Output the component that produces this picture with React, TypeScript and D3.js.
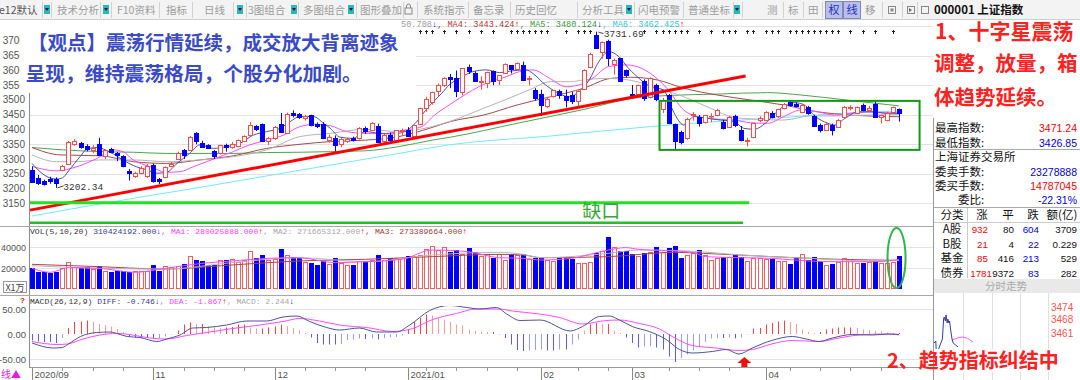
import React from 'react';
import * as d3 from 'd3';

// ---------------- DATA ----------------
const opens = [3263,3237,3226,3234,3232,3264,3282,3350,3355,3345,3332,3352,3310,3333,3320,3310,3258,3241,3253,3243,3280,3231,3238,3276,3300,3330,3332,3388,3354,3346,3327,3320,3346,3340,3345,3362,3382,3412,3418,3360,3370,3418,3388,3455,3452,3440,3448,3420,3418,3365,3372,3350,3362,3372,3370,3405,3398,3412,3362,3383,3360,3394,3400,3377,3420,3474,3492,3530,3552,3578,3575,3528,3612,3590,3560,3557,3598,3568,3590,3618,3605,3620,3570,3535,3522,3478,3514,3532,3512,3517,3495,3537,3612,3721,3664,3700,3621,3641,3601,3520,3520,3563,3510,3550,3470,3518,3418,3393,3370,3449,3444,3427,3445,3449,3427,3410,3446,3398,3362,3376,3432,3432,3455,3446,3472,3494,3488,3460,3477,3446,3415,3398,3415,3410,3441,3472,3457,3483,3466,3486,3441,3432,3460,3468];
const highs = [3275,3246,3230,3240,3238,3280,3361,3367,3358,3350,3347,3372,3333,3338,3324,3313,3266,3257,3276,3283,3285,3236,3275,3290,3325,3334,3378,3391,3362,3350,3330,3348,3352,3358,3366,3380,3425,3415,3420,3375,3412,3456,3457,3465,3456,3450,3450,3424,3425,3383,3380,3372,3373,3376,3408,3410,3425,3420,3385,3390,3398,3403,3408,3414,3474,3511,3528,3556,3577,3588,3600,3608,3620,3597,3580,3596,3600,3585,3624,3618,3627,3630,3581,3540,3535,3510,3533,3535,3535,3528,3533,3604,3660,3731.69,3698,3704,3640,3643,3603,3551,3552,3570,3577,3555,3507,3520,3420,3396,3440,3459,3449,3450,3455,3470,3432,3446,3450,3412,3372,3422,3445,3462,3462,3470,3490,3497,3492,3488,3480,3450,3420,3422,3420,3435,3480,3482,3478,3488,3480,3500,3450,3460,3478,3471.24];
const lows = [3222,3212,3210,3216,3202.34,3259,3280,3345,3335,3326,3320,3310,3300,3320,3293,3272,3227,3236,3248,3236,3220,3215,3235,3272,3298,3300,3330,3350,3340,3334,3300,3315,3325,3335,3340,3358,3380,3395,3360,3348,3365,3390,3385,3441,3436,3430,3411,3405,3368,3355,3325,3340,3355,3360,3366,3385,3395,3355,3355,3358,3355,3380,3375,3371,3418,3460,3484,3513,3544,3540,3510,3516,3588,3562,3535,3540,3550,3550,3588,3590,3600,3566,3550,3498,3446,3472,3508,3504,3475,3486,3473,3535,3610,3674,3640,3615,3586,3564,3576,3505,3510,3497,3505,3496,3456,3418,3330,3350,3365,3430,3410,3420,3425,3445,3400,3406,3408,3360,3343,3372,3425,3430,3438,3440,3468,3478,3475,3455,3450,3410,3390,3395,3380,3405,3438,3465,3452,3462,3460,3440,3421,3428,3455,3426.85];
const closes = [3223,3219,3217,3226,3218,3275,3358,3360,3340,3334,3338,3313,3329,3325,3314,3278,3251,3254,3270,3276,3225,3226,3272,3283,3321,3312,3373,3360,3342,3339,3310,3346,3340,3350,3363,3378,3414,3403,3362,3370,3408,3392,3451,3449,3443,3445,3416,3411,3371,3373,3347,3369,3367,3366,3404,3394,3421,3357,3382,3363,3397,3397,3379,3414,3473,3503,3528,3550,3576,3570,3531,3608,3598,3566,3566,3596,3566,3584,3621,3606,3624,3569,3573,3506,3483,3505,3533,3517,3501,3496,3532,3603,3655,3675,3696,3642,3636,3564,3585,3512,3551,3508,3576,3503,3501,3421,3362,3359,3436,3453,3421,3448,3447,3466,3404,3444,3415,3365,3366,3421,3438,3460,3441,3468,3486,3483,3481,3483,3455,3412,3398,3419,3398,3432,3477,3475,3475,3466,3474,3444,3449,3455,3475,3455];
// volume, unit: x1万 (hands)
const volumes = [20300,16500,15800,15500,16500,20000,25500,21000,20000,20500,19500,21500,17500,16500,17000,17000,16500,17000,17500,17500,23000,17000,22000,21000,22000,24000,31000,28000,27000,22500,22500,27500,28000,28500,25500,27500,36000,30000,32500,27500,29000,38500,32000,30500,29500,25500,25000,22500,26500,24000,29500,24500,23000,22500,27000,27000,28000,32500,28000,29500,30000,29500,31500,31000,32500,38000,40500,37000,40000,35500,37500,33000,39000,35000,31500,33000,30000,33000,28000,33000,32000,33500,29000,29500,29200,27600,26700,29800,29800,28600,24500,25100,26000,34000,36200,49200,40300,36200,36200,33300,31400,34600,34900,39700,35600,38700,41000,29800,32400,34600,37100,32400,27600,29800,30800,30800,33000,30800,27000,29200,29200,28600,28600,27000,27000,23500,29200,33000,27600,30200,27000,22900,23500,26000,29800,28300,25100,25100,26000,27000,25100,25100,26000,31042];
const macdBars = [-13,-15,-16,-16,-18,-8,12,24,25,27,24,20,18,15,10,4,-5,-7,-8,-8,-9,-8,-5,-1,7,19,23,20,20,15,13,12,13,14,19,19,13,11,11,13,15,19,16,12,7,2,-7,-18,-21,-21,-21,-20,-12,-11,-9,-10,-9,-11,-8,-7,-6,-3,9,24,32,39,37,32,29,24,19,17,9,6,5,4,4,-1,-8,-21,-32,-34,-33,-32,-31,-33,-33,-31,-31,-21,-11,7,19,22,20,20,7,2,-7,-18,-27,-25,-24,-27,-31,-45,-56,-48,-41,-33,-25,-16,-9,-8,-8,-7,-9,-7,-1,11,12,19,22,25,27,24,20,9,4,2,4,9,11,13,13,13,12,9,7,6,5,3,2,2.244];
// sparse readings [candle index, value]
const diffPts = [[0,-18],[3.5,-28],[5,-27],[6,-20],[8,-5],[10.7,3],[12.9,4],[14,1],[15.7,-5],[17.8,-7],[20.6,-15],[22.2,-10],[24.4,-2],[26.5,12],[28.8,13],[32.1,18],[35.4,26],[38.7,26],[41.4,34],[43.7,36],[45.8,25],[48.6,13],[50.7,8],[54,12],[56.8,4],[60.1,4],[62.3,18],[65.6,47],[68.9,57],[71.7,53],[73.8,50],[76.6,53],[78.3,40],[80.5,27],[83.8,28],[88.8,6],[90.8,15],[93.6,35],[95.2,36],[96.9,28],[99,15],[101.8,5],[104.6,-11],[106.8,-31],[108.9,-38],[112.2,-35],[114.5,-31],[116.6,-40],[118.8,-28],[122,-13],[125.4,-5],[127.7,-10],[129.8,-15],[132,-8],[135.3,-1],[138.6,-2],[141.4,0],[143,-0.746]];
const deaPts = [[0,-15],[4.1,-21],[5.8,-20],[8.4,-10],[11.2,-2],[14,1],[16.6,-2],[19.4,-8],[22.2,-10],[25.5,-3],[28.8,3],[33.1,11],[37.6,18],[41.4,25],[44.2,31],[47.4,26],[51.2,17],[55.2,13],[59.5,5],[62.8,11],[66.1,29],[70,41],[73.3,50],[77.1,50],[79.2,46],[83.7,40],[87,33],[90.8,20],[94.7,27],[96.9,28],[100.2,21],[103.5,10],[105.6,-5],[108.9,-23],[112.8,-28],[116.6,-33],[118.8,-31],[122,-20],[125.4,-13],[129.8,-15],[133.1,-8],[136.4,-2],[140.9,0],[143,-1.867]];
const ma1Pts = [[0,3285],[2,3246],[4,3232],[5,3236],[6,3259],[7,3285],[8,3310],[9,3333],[10.7,3339],[12.9,3323],[15,3297],[16.7,3278],[19,3263],[20.6,3252],[22.2,3255],[23.9,3285],[26,3319],[27.7,3348],[29.9,3336],[32.1,3342],[34.3,3353],[36.5,3381],[38.7,3393],[40.9,3404],[42.6,3427],[44.2,3444],[46.4,3444],[48.1,3421],[49.2,3404],[50.8,3374],[52.9,3370],[55,3393],[57.2,3387],[59.4,3385],[61.5,3393],[63.2,3421],[65.4,3477],[67.6,3523],[68.8,3551],[70.5,3573],[72.7,3596],[74.9,3602],[77.1,3593],[79.3,3599],[81.5,3602],[82.6,3590],[84.7,3551],[86.4,3528],[88.6,3511],[90.2,3528],[91.9,3568],[93.5,3630],[95.1,3664],[96.8,3647],[98.4,3607],[99.5,3585],[102,3545],[104.2,3534],[105.3,3483],[106.4,3438],[107.5,3415],[109.2,3444],[111.4,3438],[113.6,3432],[115.8,3427],[117.4,3404],[119.1,3401],[121.3,3427],[123.5,3472],[125.7,3491],[127.4,3483],[129.1,3446],[131.3,3421],[132.4,3415],[134.1,3438],[136.3,3460],[138.5,3460],[140.7,3455],[143,3455]];
const ma2Pts = [[0,3275],[4,3260],[7.4,3274],[10.7,3302],[13.4,3331],[15,3325],[16.7,3297],[19.5,3274],[22.2,3255],[24.4,3257],[26.6,3274],[28.8,3291],[31,3308],[33.2,3325],[35.9,3348],[38.7,3364],[41.5,3381],[44.2,3410],[46.9,3418],[49.2,3413],[51.9,3393],[55,3387],[58.3,3387],[61.5,3398],[64.3,3410],[66.4,3449],[68.8,3483],[70.5,3506],[72.7,3534],[74.9,3556],[78.2,3579],[80.4,3596],[82.6,3602],[85.4,3573],[88.1,3545],[90.2,3551],[92.4,3573],[95.1,3613],[97.9,3619],[99.8,3613],[102,3590],[104.7,3540],[107.5,3466],[110.3,3441],[113,3435],[115.8,3432],[118.5,3423],[121.3,3421],[124,3444],[126.8,3466],[129.6,3460],[132.4,3449],[135.1,3455],[137.9,3460],[140.7,3457],[143,3455]];
const ma3Pts = [[0,3314],[4,3291],[7.4,3291],[11.3,3297],[16.7,3297],[22.2,3291],[27.7,3297],[33.2,3308],[38.7,3331],[44.2,3376],[49.2,3387],[55,3401],[60.5,3393],[66,3410],[69,3428],[74.5,3472],[80,3517],[82.2,3536],[85.5,3562],[88.8,3562],[91,3568],[94.3,3573],[97.6,3570],[100.9,3556],[104.2,3534],[107.5,3511],[111.9,3472],[115.8,3441],[119.6,3435],[124,3432],[128.4,3446],[132.4,3446],[137.9,3449],[143,3450.7]];
const ma4Pts = [[0,3339],[4.6,3314],[11.3,3311],[16.7,3291],[22.2,3285],[27.7,3297],[33.2,3311],[38.7,3336],[44.2,3350],[49.2,3359],[55,3364],[60.5,3376],[66,3407],[69,3427],[74.5,3449],[80,3483],[85.5,3511],[91,3540],[95.4,3573],[98.7,3577],[103.1,3568],[107.5,3540],[113,3517],[118.5,3500],[124,3483],[129.6,3460],[135.1,3449],[143,3443.4]];
const ma5Pts = [[0,3339],[5.2,3331],[11.3,3325],[16.7,3323],[22.2,3319],[27.7,3319],[33.2,3319],[38.7,3322],[44.2,3323],[49.2,3325],[55,3328],[60.5,3342],[66,3364],[69,3374],[80,3421],[91,3468],[99.2,3506],[104.7,3515],[113,3520],[121.3,3525],[126.8,3517],[135.1,3498],[143,3480.1]];
const ma6Pts = [[0,3107],[11.2,3148],[27.7,3204],[44.2,3262],[60.5,3319],[68.8,3348],[85.5,3378],[102,3410],[113,3427],[124,3441],[135.1,3457],[143,3462.4]];
const volMa1Pts = [[0,19700],[3,15900],[6,20300],[11,19700],[17,15900],[22,19700],[28,24400],[33,26700],[39,29200],[44,29800],[50,25100],[55,26000],[61,28300],[66,37100],[72,35500],[77,29800],[81,29200],[84,27600],[89,29200],[92,33000],[95,37100],[98,39400],[100,37800],[106,36200],[109,34900],[111,30800],[117,29800],[122,29200],[128,26700],[133,26000],[139,26000],[143,28003]];
const volMa2Pts = [[0,22200],[11,19700],[22,19000],[33,25100],[44,29800],[55,26000],[66,32400],[77,34900],[81,33000],[84,29800],[95,33900],[100,37100],[108,36200],[117,32400],[128,29200],[139,26700],[143,27167]];
const volMa3Pts = [[0,23500],[11,21300],[22,19000],[33,22900],[44,26700],[55,28300],[66,30800],[77,33000],[81,32400],[84,29800],[95,30800],[106,34900],[111,33900],[122,30800],[133,28300],[143,27339]];
const priceLabels = [3150,3200,3250,3300,3350,3400,3450,3500,3550,3600,3650,3700];
const priceGrid = [3150,3250,3350,3450,3550,3650,3750];
const volLabels = [20000,40000];
const macdLabels = [50,0,-50];
const dateTickIdx = [0,20,40,62,84,99,121];
const dateTickLabels = ['2020/09','11','12','2021/01','02','03','04'];
const eventMarkIdx = [64,65,66,68,70,72,74,76,79,80,81,82,83,84,85,88,90,91,92,100,101,103,104,105,106,107,108,110,112,114,115,116,118,119,121,122,123,125,126,127,128,129,130,131,132,133,135,137,139,142];
const trendLine = [[-0.33,3127],[117.7,3581]];
const gapHigh = 3152, gapLow = 3084, gapEndIdx = 118.3;
const boxRange = { i0: 103.5, i1: 146.4, vTop: 3497, vBot: 3331 };
const hiIdx = 93, hiVal = 3731.69, loIdx = 4, loVal = 3202.34;
// right panel
const infoLabels = ['最高指数:','最低指数:','上海证券交易所','委卖手数:','委买手数:','委比:'];
const infoValues = ['3471.24','3426.85','','23278888','14787045','-22.31%'];
const breadthCats = ['A股','B股','基金','债券'];
const breadthUp = ['932','21','85','1781'];
const breadthFlat = ['80','4','416','9372'];
const breadthDown = ['604','22','213','83'];
const breadthAmt = ['3709','0.229','529','282'];
const intradayMin = [0,3,4,14,16,17,19,20,22,23,25,26,28,30,32,36,40];
const intradayPx = [3456,3457,3450,3458,3468,3469,3467,3470,3466,3468,3466,3467,3462,3458,3456,3455,3454];
const intradayAvgMin = [30,40,48,56,65];
const intradayAvgPx = [3457.5,3458.6,3459,3458.3,3456.5];
const miniLabels = [3474,3468,3461];

// ---------------- layout / style ----------------
const W = 1080, H = 380;
const CJK = '"Noto Sans CJK SC","Noto Sans",sans-serif';
const NUM = '"Liberation Sans","DejaVu Sans",sans-serif';
const MONO = '"Liberation Mono","DejaVu Sans Mono",monospace';
const toolbarItems = [
  { t: 'e12默认', x: -1 }, { t: '技术分析', x: 57 }, { t: 'F10资料', x: 117 }, { t: '指标', x: 166 },
  { t: '日线', x: 204 }, { t: '3图组合', x: 248 }, { t: '多图组合', x: 303 }, { t: '图形叠加', x: 360 },
  { t: '系统指示', x: 423 }, { t: '备忘录', x: 473 }, { t: '历史回忆', x: 515 }, { t: '分析工具', x: 582 },
  { t: '闪电预警', x: 638 }, { t: '普通坐标', x: 688 }, { t: '测', x: 767 }, { t: '标', x: 788 },
  { t: '田', x: 808 }, { t: '移', x: 865 },
];
const toolbarDrops = [44, 103, 237, 291, 348, 626, 734];
const toolbarSeps = [42, 51, 100, 111, 159, 192, 233, 246, 298, 356, 403, 417, 468, 510, 577, 634, 683, 733, 742, 783, 803, 822, 882, 902, 917];

const C_RED = '#ff4848';
const C_BLUE = '#0000ff';

export default function App() {
  const N = closes.length;
  const x = d3.scaleLinear().domain([-0.5, N - 0.5]).range([29, 902]);
  const yP = d3.scaleLinear().domain([3086.7, 3771]).range([222, 20]);
  const yV = d3.scaleLinear().domain([0, 40000]).range([289, 247]);
  const yM = d3.scaleLinear().domain([-50, 50]).range([359, 309]);
  const px = (i: number) => Math.round(x(i)) + 0.5;

  const lineP = d3.line<any>().x((d: any) => x(d[0])).y((d: any) => yP(d[1])).curve(d3.curveMonotoneX);
  const lineV = d3.line<any>().x((d: any) => x(d[0])).y((d: any) => yV(d[1])).curve(d3.curveMonotoneX);
  const lineM = d3.line<any>().x((d: any) => x(d[0])).y((d: any) => yM(d[1])).curve(d3.curveMonotoneX);

  const mini = {
    x: d3.scaleLinear().domain([0, 240]).range([934, 1078]),
    y: d3.scaleLinear().domain([3461, 3474]).range([333, 307]),
  };
  const miniLine = d3.line<any>().x((d: any) => mini.x(d[0])).y((d: any) => mini.y(d[1]));

  const maHeader = [
    { t: '50.708', c: '#a0a0a0' }, { t: '↓', c: '#0000ff' }, { t: ', MA4: 3443.424', c: '#b03a3a' }, { t: '↑', c: '#ff0000' },
    { t: ', MA5: 3480.124', c: '#3a9a3a' }, { t: '↓', c: '#0000ff' }, { t: ', MA6: 3462.425', c: '#30c8d8' }, { t: '↑', c: '#ff0000' },
  ];
  const volHeader = [
    { t: 'VOL(5,10,20) ', c: '#333' }, { t: '310424192.000', c: '#3a3a9a' }, { t: '↓', c: '#0000ff' },
    { t: ', MA1: 280025888.000', c: '#ff40ff' }, { t: '↑', c: '#ff0000' },
    { t: ', MA2: 271665312.000', c: '#a8a8a8' }, { t: '↑', c: '#ff0000' },
    { t: ', MA3: 273389664.000', c: '#a04040' }, { t: '↑', c: '#ff0000' },
  ];
  const macdHeader = [
    { t: 'MACD(26,12,9) ', c: '#333' }, { t: 'DIFF: -0.746', c: '#3a3a9a' }, { t: '↓', c: '#0000ff' },
    { t: ', DEA: -1.867', c: '#ff40ff' }, { t: '↑', c: '#ff0000' },
    { t: ', MACD: 2.244', c: '#a8a8a8' }, { t: '↓', c: '#0000ff' },
  ];

  const arrowX = x(117.5);

  return (
    <div style={{ position: 'absolute', left: 0, top: 0, width: W, height: H, background: '#fff' }}>
      <svg width={W} height={H} viewBox={`0 0 ${W} ${H}`} xmlns="http://www.w3.org/2000/svg">
        <defs>
          <clipPath id="mainClip"><rect x={30} y={20} width={903} height={205} /></clipPath>
          <clipPath id="volClip"><rect x={30} y={236} width={903} height={56} /></clipPath>
          <clipPath id="macdClip"><rect x={30} y={306} width={903} height={61} /></clipPath>
        </defs>
        <rect x={0} y={0} width={W} height={H} fill="#fff" />

        {/* toolbar */}
        <rect x={0} y={0} width={W} height={20} fill="#f3f3f3" />
        <line x1={0} x2={W} y1={19.5} y2={19.5} stroke="#cfcfcf" />
        {toolbarSeps.map((s, k) => <line key={'s' + k} x1={s + 0.5} x2={s + 0.5} y1={2} y2={18} stroke="#d2d2d2" />)}
        {toolbarItems.map((it, k) => (
          <text key={'t' + k} x={it.x} y={14} fontSize={10.5} fill={k === 0 ? '#555' : '#9c9c9c'} fontFamily={CJK}>{it.t}</text>
        ))}
        {toolbarDrops.map((dx, k) => (
          <g key={'d' + k}>
            <rect x={dx} y={5} width={6} height={9} fill="#2ab8b8" />
            <path d={`M${dx + 1},${8} h4 l-2,3 z`} fill="#0a2050" />
          </g>
        ))}
        <g>
          <rect x={405} y={8} width={7} height={6} fill="none" stroke="#888" />
          <path d="M406.5,8 v-2 a2,2 0 0 1 4,0 v2" fill="none" stroke="#888" />
        </g>
        <rect x={825.5} y={1.5} width={17} height={17} fill="#b8bfe8" stroke="#8088c0" />
        <rect x={843.5} y={1.5} width={17} height={17} fill="#b8bfe8" stroke="#8088c0" />
        <text x={834} y={14} fontSize={11} textAnchor="middle" fill="#2030c8" fontFamily={CJK}>权</text>
        <text x={852} y={14} fontSize={11} textAnchor="middle" fill="#2030c8" fontFamily={CJK}>线</text>
        <rect x={888.5} y={6.5} width={7} height={7} fill="none" stroke="#888" />
        <rect x={890.5} y={8.5} width={3} height={3} fill="#888" />
        <rect x={907.5} y={6.5} width={7} height={7} fill="none" stroke="#888" />
        <path d="M909,8 l3,2 l-3,2 z" fill="#666" />
        <rect x={921.5} y={6.5} width={7} height={7} fill="none" stroke="#888" />
        <text x={934} y={13.5} fontSize={11.5} fontWeight={700} fill="#111" fontFamily={CJK}>000001 上证指数</text>

        {/* main price panel grid + axis labels */}
        {priceGrid.map((v) => (
          <line key={'g' + v} x1={30} x2={933} y1={Math.round(yP(v)) + 0.5} y2={Math.round(yP(v)) + 0.5} stroke="#e3e3e3" />
        ))}
        {priceLabels.map((v) => (
          <text key={'pl' + v} x={25} y={yP(v) + 3.5} fontSize={10} textAnchor="end" fill="#555" fontFamily={NUM}>{v}</text>
        ))}

        <g clipPath="url(#mainClip)">
          {[ [ma6Pts, '#6cecff'], [ma5Pts, '#4aa84a'], [ma4Pts, '#a84a4a'], [ma3Pts, '#b4b4b4'], [ma2Pts, '#ff48ff'], [ma1Pts, '#50509c'] ].map((m: any, k) => (
            <path key={'ma' + k} d={lineP(m[0]) || ''} fill="none" stroke={m[1]} strokeWidth={1} />
          ))}
          {closes.map((c, i) => {
            const o = opens[i];
            const up = c >= o;
            const col = up ? C_RED : C_BLUE;
            const cx = px(i);
            const top = Math.round(yP(Math.max(o, c))) + 0.5;
            const bot = Math.round(yP(Math.min(o, c))) + 0.5;
            return (
              <g key={'c' + i}>
                <line x1={cx} x2={cx} y1={yP(highs[i])} y2={top} stroke={col} />
                <line x1={cx} x2={cx} y1={bot} y2={yP(lows[i])} stroke={col} />
                <rect x={cx - 2} y={top} width={4} height={Math.max(bot - top, 0.5)} fill={up ? '#fff' : col} stroke={col} />
              </g>
            );
          })}
        </g>

        {/* event markers row */}
        {eventMarkIdx.map((i) => (
          <path key={'em' + i} d={`M${px(i) - 1.5},31.5 h3 M${px(i)},30 v4`} stroke="#222" strokeWidth={1} />
        ))}

        {/* annotations */}
        <line x1={x(trendLine[0][0])} y1={yP(trendLine[0][1])} x2={x(trendLine[1][0])} y2={yP(trendLine[1][1])} stroke="#ff0000" strokeWidth={3} />
        <line x1={30} x2={x(gapEndIdx)} y1={yP(gapHigh)} y2={yP(gapHigh)} stroke="#22e022" strokeWidth={3} />
        <line x1={30} x2={x(gapEndIdx - 1)} y1={yP(gapLow)} y2={yP(gapLow)} stroke="#22c022" strokeWidth={2.5} />
        <text x={x(93.9)} y={218} fontSize={19} textAnchor="middle" fill="#37a837" fontFamily={CJK}>缺口</text>
        <rect x={x(boxRange.i0)} y={yP(boxRange.vTop)} width={x(boxRange.i1) - x(boxRange.i0)} height={yP(boxRange.vBot) - yP(boxRange.vTop)} fill="none" stroke="#119a11" strokeWidth={2} />

        {/* hi / lo labels */}
        <rect x={x(hiIdx) + 6} y={28} width={38} height={10} fill="#fff" />
        <line x1={px(hiIdx) + 2} x2={px(hiIdx) + 7} y1={yP(hiVal) + 0.5} y2={yP(hiVal) + 2} stroke="#444" />
        <text x={x(hiIdx) + 8} y={37} fontSize={9.5} fill="#333" fontFamily={MONO}>{hiVal.toFixed(2)}</text>
        <line x1={px(loIdx) + 1} x2={px(loIdx) + 7} y1={yP(loVal)} y2={yP(loVal) - 2} stroke="#444" />
        <text x={x(loIdx) + 7} y={190} fontSize={9.5} fill="#333" fontFamily={MONO}>{loVal.toFixed(2)}</text>

        {/* overlay text box */}
        <rect x={20} y={21} width={396} height={72} fill="#fff" />
        <text x={28} y={50} fontSize={19.5} fontWeight={700} fill="#3b4bc8" fontFamily={CJK}>【观点】震荡行情延续，成交放大背离迹象</text>
        <text x={25.5} y={81} fontSize={19.8} fontWeight={700} fill="#3b4bc8" fontFamily={CJK}>呈现，维持震荡格局，个股分化加剧。</text>

        {/* MA header */}
        <text x={401} y={27} fontSize={8.6} fontFamily={MONO}>
          {maHeader.map((s, k) => <tspan key={k} fill={s.c}>{s.t}</tspan>)}
        </text>

        {/* left axis */}
        <line x1={29.5} x2={29.5} y1={93} y2={368} stroke="#8c8c8c" />

        {/* volume panel */}
        <line x1={0} x2={934} y1={226.5} y2={226.5} stroke="#a8a8a8" />
        <text x={30} y={234} fontSize={8.1} fontFamily={MONO}>
          {volHeader.map((s, k) => <tspan key={k} fill={s.c}>{s.t}</tspan>)}
        </text>
        {volLabels.map((v) => (
          <g key={'vl' + v}>
            <line x1={30} x2={933} y1={Math.round(yV(v)) + 0.5} y2={Math.round(yV(v)) + 0.5} stroke="#e3e3e3" />
            <text x={26} y={yV(v) + 3.5} fontSize={9} textAnchor="end" fill="#555" fontFamily={NUM}>{v}</text>
          </g>
        ))}
        <g clipPath="url(#volClip)">
          {volumes.map((v, i) => {
            const up = closes[i] >= opens[i];
            const col = up ? '#ff5a5a' : C_BLUE;
            const top = Math.round(yV(v)) + 0.5;
            return <rect key={'v' + i} x={px(i) - 2} y={top} width={4} height={288.5 - top} fill={up ? '#fff' : col} stroke={col} />;
          })}
          {[[volMa3Pts, '#a84848'], [volMa2Pts, '#b8b8b8'], [volMa1Pts, '#ff48ff']].map((m: any, k) => (
            <path key={'vm' + k} d={lineV(m[0]) || ''} fill="none" stroke={m[1]} strokeWidth={1} />
          ))}
        </g>
        <ellipse cx={x(142.6)} cy={258} rx={9} ry={30} fill="none" stroke="#2ab84a" strokeWidth={2} />
        <rect x={3.5} y={281.5} width={23} height={11} fill="#fff" stroke="#999" />
        <text x={15} y={290.5} fontSize={9} textAnchor="middle" fill="#444" fontFamily={CJK}>X1万</text>

        {/* macd panel */}
        <line x1={0} x2={934} y1={295.5} y2={295.5} stroke="#a8a8a8" />
        <text x={20} y={302.5} fontSize={8} fontWeight={700} fill="#e00" fontFamily={NUM}>?</text>
        <text x={30} y={303.5} fontSize={8} fontFamily={MONO}>
          {macdHeader.map((s, k) => <tspan key={k} fill={s.c}>{s.t}</tspan>)}
        </text>
        {[50, -50].map((v) => (
          <line key={'mg' + v} x1={30} x2={933} y1={Math.round(yM(v)) + 0.5} y2={Math.round(yM(v)) + 0.5} stroke="#e3e3e3" />
        ))}
        {macdLabels.map((v) => (
          <text key={'ml' + v} x={26} y={yM(v) + 3.5} fontSize={9.5} textAnchor="end" fill="#555" fontFamily={NUM}>{v.toFixed(2)}</text>
        ))}
        <g clipPath="url(#macdClip)">
          {macdBars.map((v, i) => {
            const prev = i > 0 ? macdBars[i - 1] : v;
            const grow = Math.abs(v) >= Math.abs(prev);
            const col = v >= 0 ? (grow ? '#ff4040' : '#ff9a9a') : (grow ? '#5a5aff' : '#9a9aff');
            return <line key={'mb' + i} x1={px(i)} x2={px(i)} y1={yM(0)} y2={yM(v)} stroke={col} strokeWidth={1} />;
          })}
          <path d={lineM(deaPts) || ''} fill="none" stroke="#ff48ff" strokeWidth={1} />
          <path d={lineM(diffPts) || ''} fill="none" stroke="#50509c" strokeWidth={1} />
        </g>
        <path d={`M${arrowX},357 l7,6 h-4 v5 h-6 v-5 h-4 z`} fill="#ee1111" />

        {/* bottom date axis */}
        <line x1={30} x2={934} y1={367.5} y2={367.5} stroke="#999" />
        {d3.range(5, N, 5).filter((i) => dateTickIdx.every((t) => Math.abs(t - i) > 2)).map((i) => (
          <line key={'mt' + i} x1={px(i)} x2={px(i)} y1={368} y2={371} stroke="#999" />
        ))}
        {dateTickIdx.map((i, k) => (
          <g key={'dt' + i}>
            <line x1={px(i)} x2={px(i)} y1={368} y2={380} stroke="#888" />
            <text x={px(i) + 2} y={378} fontSize={9.5} fill="#555" fontFamily={NUM}>{dateTickLabels[k]}</text>
          </g>
        ))}
        <text x={1} y={378} fontSize={10} fill="#e020e0" fontFamily={CJK}>线▲</text>

        {/* right info panel */}
        <line x1={933.5} x2={933.5} y1={118} y2={H} stroke="#999" />
        {infoLabels.map((l, k) => {
          const ys = [132, 146.5, 161, 175.5, 190, 204];
          return (
            <g key={'il' + k}>
              <text x={k === 5 ? 958 : 935} y={ys[k]} fontSize={11.5} fill="#111" fontFamily={CJK}>{l}</text>
              {infoValues[k] && (
                <text x={1077} y={ys[k]} fontSize={10.5} textAnchor="end" fill={k === 0 || k === 4 ? '#f00' : '#0000e0'} fontFamily={NUM}>{infoValues[k]}</text>
              )}
            </g>
          );
        })}
        <line x1={934} x2={W} y1={149.5} y2={149.5} stroke="#aaa" />
        <line x1={934} x2={W} y1={207.5} y2={207.5} stroke="#aaa" />
        <line x1={934} x2={W} y1={222.5} y2={222.5} stroke="#ccc" />
        <line x1={967.5} x2={967.5} y1={208} y2={278} stroke="#ccc" />
        <text x={952} y={219} fontSize={11.5} textAnchor="middle" fill="#111" fontFamily={CJK}>分类</text>
        <text x={982} y={219} fontSize={11.5} textAnchor="middle" fill="#111" fontFamily={CJK}>涨</text>
        <text x={1008} y={219} fontSize={11.5} textAnchor="middle" fill="#111" fontFamily={CJK}>平</text>
        <text x={1033} y={219} fontSize={11.5} textAnchor="middle" fill="#111" fontFamily={CJK}>跌</text>
        <text x={1062} y={219} fontSize={11.5} textAnchor="middle" fill="#111" fontFamily={CJK}>额(亿)</text>
        {breadthCats.map((c, k) => {
          const yy = 233 + k * 14.5;
          const upEnd = breadthUp[k].length > 3 ? 992 : 988;
          return (
            <g key={'br' + k}>
              <text x={952} y={yy} fontSize={11.5} textAnchor="middle" fill="#111" fontFamily={CJK}>{c}</text>
              <text x={upEnd} y={yy} fontSize={9.8} textAnchor="end" fill="#f00" fontFamily={NUM}>{breadthUp[k]}</text>
              <text x={1014} y={yy} fontSize={9.8} textAnchor="end" fill="#111" fontFamily={NUM}>{breadthFlat[k]}</text>
              <text x={1039} y={yy} fontSize={9.8} textAnchor="end" fill="#0000e0" fontFamily={NUM}>{breadthDown[k]}</text>
              <text x={1077} y={yy} fontSize={9.8} textAnchor="end" fill="#111" fontFamily={NUM}>{breadthAmt[k]}</text>
            </g>
          );
        })}
        <rect x={934} y={279} width={146} height={14} fill="#e9e9e9" />
        <text x={1006} y={290} fontSize={10.5} textAnchor="middle" fill="#aaa" fontFamily={CJK}>分时走势</text>
        {[963.5, 992.5, 1020.5, 1048.5].map((gx) => (
          <line key={'mg' + gx} x1={gx} x2={gx} y1={293} y2={H} stroke="#e0e0e0" />
        ))}
        {miniLabels.map((v) => (
          <text key={'mn' + v} x={1051} y={mini.y(v) + 4} fontSize={10} fill="#ff5050" fontFamily={NUM}>{v}</text>
        ))}
        <path d={miniLine(intradayAvgMin.map((m, k) => [m, intradayAvgPx[k]])) || ''} fill="none" stroke="#ff60ff" strokeWidth={1} />
        <path d={miniLine(intradayMin.map((m, k) => [m, intradayPx[k]])) || ''} fill="none" stroke="#3a3a9a" strokeWidth={1} />

        {/* red annotation texts */}
        <text x={935} y={39} fontSize={21} fontWeight={700} fill="#ff2020" fontFamily={CJK}>1、十字星震荡</text>
        <text x={934} y={71} fontSize={20.5} fontWeight={700} fill="#ff2020" fontFamily={CJK}>调整，放量，箱</text>
        <text x={934} y={105} fontSize={20.5} fontWeight={700} fill="#ff2020" fontFamily={CJK}>体趋势延续。</text>
        <rect x={935} y={349} width={145} height={23} fill="#fff" />
        <text x={887} y={368} fontSize={20} fontWeight={700} fill="#ff2020" fontFamily={CJK}>2、趋势指标纠结中</text>
      </svg>
    </div>
  );
}
